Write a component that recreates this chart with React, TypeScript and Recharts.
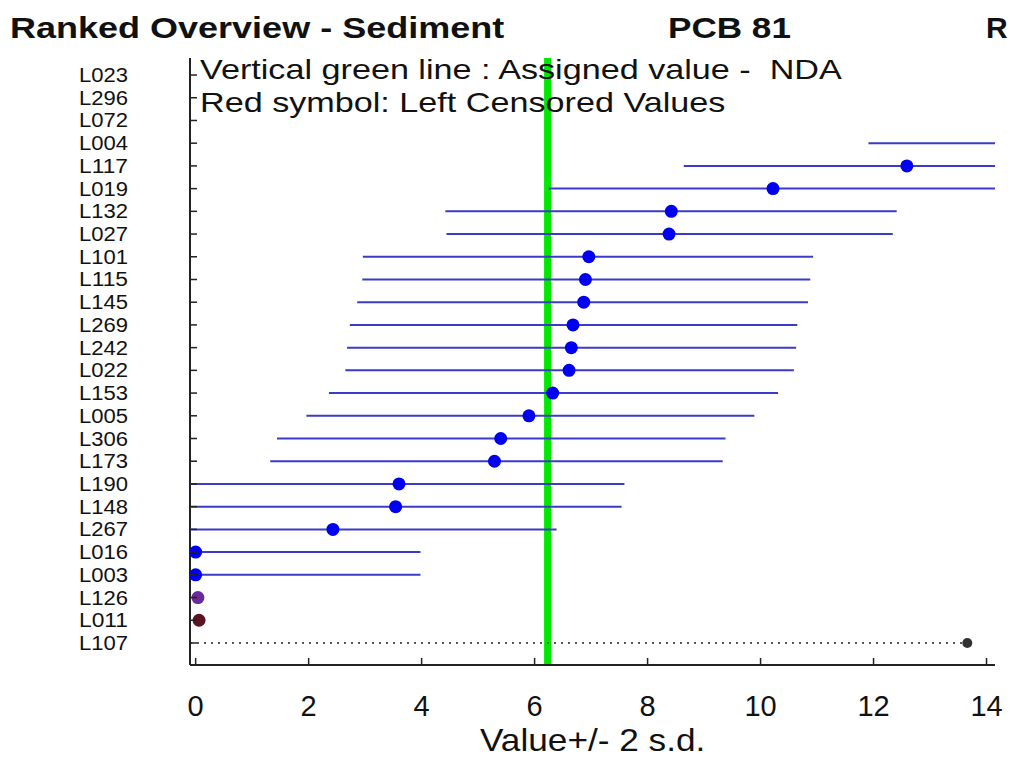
import { ScatterChart, Scatter, XAxis, YAxis, ReferenceLine } from "recharts";

// lab codes, top to bottom as ranked
const labs = [
  "L023", "L296", "L072", "L004", "L117", "L019", "L132", "L027", "L101", "L115",
  "L145", "L269", "L242", "L022", "L153", "L005", "L306", "L173", "L190", "L148",
  "L267", "L016", "L003", "L126", "L011", "L107",
];

// reported value (null = not shown / off scale)
const values = [
  null, null, null, null, 12.59, 10.22, 8.42, 8.38, 6.96, 6.9,
  6.87, 6.68, 6.65, 6.61, 6.32, 5.9, 5.4, 5.29, 3.6, 3.54,
  2.43, 0.0, 0.0, 0.04, 0.06, 13.66,
];

// visible ends of the +/- 2 s.d. bars
const lows = [
  null, null, null, 11.91, 8.64, 6.25, 4.42, 4.44, 2.96, 2.95,
  2.86, 2.73, 2.68, 2.65, 2.36, 1.96, 1.44, 1.32, -0.1, -0.1,
  -0.1, 0.0, 0.0, null, null, -0.1,
];
const highs = [
  null, null, null, 14.15, 14.15, 14.15, 12.41, 12.34, 10.93, 10.88,
  10.84, 10.65, 10.63, 10.59, 10.31, 9.89, 9.38, 9.33, 7.59, 7.54,
  6.39, 3.98, 3.98, null, null, 13.66,
];

const censoredLabs = ["L126", "L011"];
const outlierLabs = ["L107"];
const assignedValue = 6.23;
const xTicks = [0, 2, 4, 6, 8, 10, 12, 14];

const FONT = "'Liberation Sans', Arial, sans-serif";
const BAR = "#3b3bc8";
const DOT = "#0000f0";

const symbolColor: Record<string, string> = {
  L126: "#6b2a9c",
  L011: "#5c1420",
  L107: "#333333",
};

const bluePoints = labs
  .map((lab, i) => ({ lab, x: values[i], y: i }))
  .filter((d) => d.x !== null && !censoredLabs.includes(d.lab) && !outlierLabs.includes(d.lab));

const otherPoints = labs
  .map((lab, i) => ({ lab, x: values[i], y: i }))
  .filter((d) => censoredLabs.includes(d.lab) || outlierLabs.includes(d.lab));

const segments = labs
  .map((lab, i) => ({
    lab,
    pts: [
      { x: lows[i], y: i },
      { x: highs[i], y: i },
    ],
  }))
  .filter((s) => s.pts[0].x !== null);

const XTick = (p: any) => (
  <g>
    <line x1={p.x} x2={p.x} y1={p.y} y2={p.y - 7} stroke="#222" strokeWidth={1.5} />
    <text x={p.x} y={p.y + 51} textAnchor="middle" fontSize={29} fontFamily={FONT} fill="#111">
      {p.payload.value}
    </text>
  </g>
);

const YTick = (p: any) => (
  <g>
    <line x1={p.x} x2={p.x + 7} y1={p.y} y2={p.y} stroke="#222" strokeWidth={1.5} />
    <text
      x={p.x - 111}
      y={p.y + 7}
      textAnchor="start"
      fontSize={20}
      textLength={49}
      lengthAdjust="spacingAndGlyphs"
      fontFamily={FONT}
      fill="#111"
    >
      {labs[p.payload.value]}
    </text>
  </g>
);

const DotShape = (p: any) => {
  const color = symbolColor[p.payload.lab] ?? DOT;
  const r = p.payload.lab === "L107" ? 5 : 6.5;
  return <circle cx={p.cx} cy={p.cy} r={r} fill={color} />;
};

const Nothing = () => <g />;

const stretch = (s: number): React.CSSProperties => ({
  transform: `scaleX(${s})`,
  transformOrigin: "left top",
  whiteSpace: "pre",
});

export default function App() {
  return (
    <div
      style={{
        position: "absolute",
        left: 0,
        top: 0,
        width: 1010,
        height: 771,
        overflow: "hidden",
        background: "#fff",
        fontFamily: FONT,
        color: "#111",
      }}
    >
      <div style={{ position: "absolute", left: 10, top: 11, fontSize: 30, fontWeight: "bold", ...stretch(1.2) }}>
        Ranked Overview - Sediment
      </div>
      <div style={{ position: "absolute", left: 668, top: 11, fontSize: 30, fontWeight: "bold", ...stretch(1.17) }}>
        PCB 81
      </div>
      <div style={{ position: "absolute", left: 986, top: 11, fontSize: 30, fontWeight: "bold", whiteSpace: "pre" }}>
        R
      </div>
      <ScatterChart width={1010} height={771} margin={{ top: 58, right: 15, bottom: 56, left: 70 }}>
        <XAxis
          type="number"
          dataKey="x"
          domain={[-0.1, 14.15]}
          allowDataOverflow
          ticks={xTicks}
          tickSize={0}
          tickMargin={0}
          tick={<XTick />}
          axisLine={{ stroke: "#222", strokeWidth: 2 }}
          height={50}
        />
        <YAxis
          type="number"
          dataKey="y"
          domain={[-0.75, 25.97]}
          allowDataOverflow
          reversed
          ticks={labs.map((_, i) => i)}
          interval={0}
          tickSize={0}
          tickMargin={0}
          tick={<YTick />}
          axisLine={{ stroke: "#222", strokeWidth: 2 }}
          width={120}
        />
        {segments.map((s) => (
          <Scatter
            key={s.lab}
            data={s.pts}
            line={
              s.lab === "L107"
                ? { stroke: "#222", strokeWidth: 1.5, strokeDasharray: "2 5" }
                : { stroke: BAR, strokeWidth: 2 }
            }
            shape={<Nothing />}
            isAnimationActive={false}
          />
        ))}
        <Scatter data={bluePoints} shape={<DotShape />} isAnimationActive={false} />
        <Scatter data={otherPoints} shape={<DotShape />} isAnimationActive={false} />
        <ReferenceLine x={assignedValue} stroke="#00e800" strokeWidth={7} />
      </ScatterChart>
      <div style={{ position: "absolute", left: 200, top: 54, fontSize: 28, ...stretch(1.22) }}>
        {"Vertical green line : Assigned value -  NDA"}
      </div>
      <div style={{ position: "absolute", left: 200, top: 87, fontSize: 28, ...stretch(1.22) }}>
        {"Red symbol: Left Censored Values"}
      </div>
      <div
        style={{
          position: "absolute",
          left: 480,
          top: 724,
          fontSize: 32,
          lineHeight: 1,
          ...stretch(1.1),
        }}
      >
        {"Value+/- 2 s.d."}
      </div>
    </div>
  );
}
